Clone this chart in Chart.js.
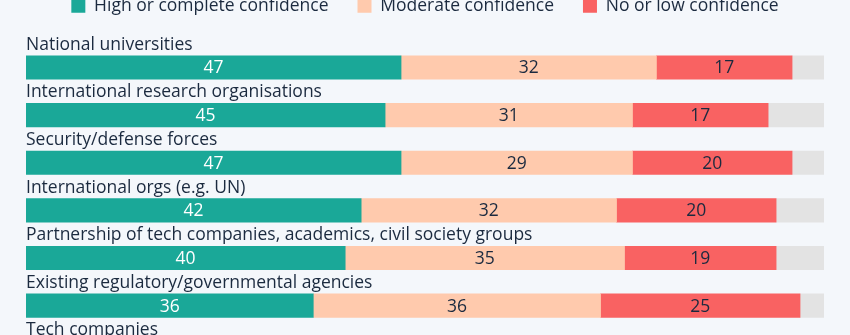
<!DOCTYPE html>
<html>
<head>
<meta charset="utf-8">
<script src="https://cdn.jsdelivr.net/npm/chart.js@4.4.0/dist/chart.umd.min.js"></script>
<style>
  html, body { margin: 0; padding: 0; background: #f4f7fb; overflow: hidden; }
  #wrap { position: relative; width: 850px; height: 335px; overflow: hidden; }
  #chart { position: absolute; left: 0; top: -32px; }
</style>
</head>
<body>
<div id="wrap"><canvas id="chart" width="850" height="420"></canvas></div>
<script>
// Confidence in bodies to govern AI, share of respondents (%)
const categories = [
  'National universities',
  'International research organisations',
  'Security/defense forces',
  'International orgs (e.g. UN)',
  'Partnership of tech companies, academics, civil society groups',
  'Existing regulatory/governmental agencies',
  'Tech companies'
];
const seriesNames = ['High or complete confidence', 'Moderate confidence', 'No or low confidence', 'Other'];
const highConf = [47, 45, 47, 42, 40, 36, 33];
const moderateConf = [32, 31, 29, 32, 35, 36, 36];
const lowConf = [17, 17, 20, 20, 19, 25, 27];
const otherResp = [4, 7, 4, 6, 6, 3, 4];

const textColor = '#1b2a3f';
const fontFamily = '"Open Sans", sans-serif';
const fontSize = 17.5;

// fixed legend block height so the bars start below it
const legendHeight = {
  id: 'legendHeight',
  beforeInit(chart) {
    const fit = chart.legend.fit;
    chart.legend.fit = function () {
      fit.call(this);
      this.height = 75.7;
    };
  }
};

// draws the category name above each bar and the values inside segments
const barTexts = {
  id: 'barTexts',
  afterDatasetsDraw(chart) {
    const ctx = chart.ctx;
    ctx.save();
    ctx.font = fontSize + 'px ' + fontFamily;
    ctx.textAlign = 'left';
    ctx.textBaseline = 'alphabetic';
    ctx.fillStyle = textColor;
    chart.getDatasetMeta(0).data.forEach((bar, i) => {
      ctx.fillText(chart.data.labels[i], chart.chartArea.left, bar.y - bar.height / 2 - 6);
    });
    ctx.textAlign = 'center';
    ctx.textBaseline = 'middle';
    chart.data.datasets.forEach((ds, di) => {
      if (di > 2) return;
      chart.getDatasetMeta(di).data.forEach((bar, i) => {
        ctx.fillStyle = di === 0 ? '#ffffff' : textColor;
        ctx.fillText(ds.data[i], (bar.x + bar.base) / 2, bar.y + 1);
      });
    });
    ctx.restore();
  }
};

const ctx = document.getElementById('chart').getContext('2d');
new Chart(ctx, {
  type: 'bar',
  data: {
    labels: categories,
    datasets: [
      { label: seriesNames[0], data: highConf, backgroundColor: '#1aa898' },
      { label: seriesNames[1], data: moderateConf, backgroundColor: '#ffcaad' },
      { label: seriesNames[2], data: lowConf, backgroundColor: '#f96262' },
      { label: seriesNames[3], data: otherResp, backgroundColor: '#e3e3e3' }
    ]
  },
  options: {
    indexAxis: 'y',
    responsive: false,
    animation: false,
    events: [],
    layout: { padding: { left: 26, right: 26, top: 0, bottom: 11 } },
    datasets: { bar: { barThickness: 23.5, borderWidth: 0 } },
    scales: {
      x: { stacked: true, min: 0, max: 100, display: false },
      y: { stacked: true, display: false }
    },
    plugins: {
      tooltip: { enabled: false },
      legend: {
        position: 'top',
        align: 'center',
        labels: {
          boxWidth: 14,
          boxHeight: 14,
          padding: 29,
          color: textColor,
          font: { family: fontFamily, size: fontSize },
          filter: item => item.datasetIndex < 3
        }
      }
    }
  },
  plugins: [legendHeight, barTexts]
});
</script>
</body>
</html>
